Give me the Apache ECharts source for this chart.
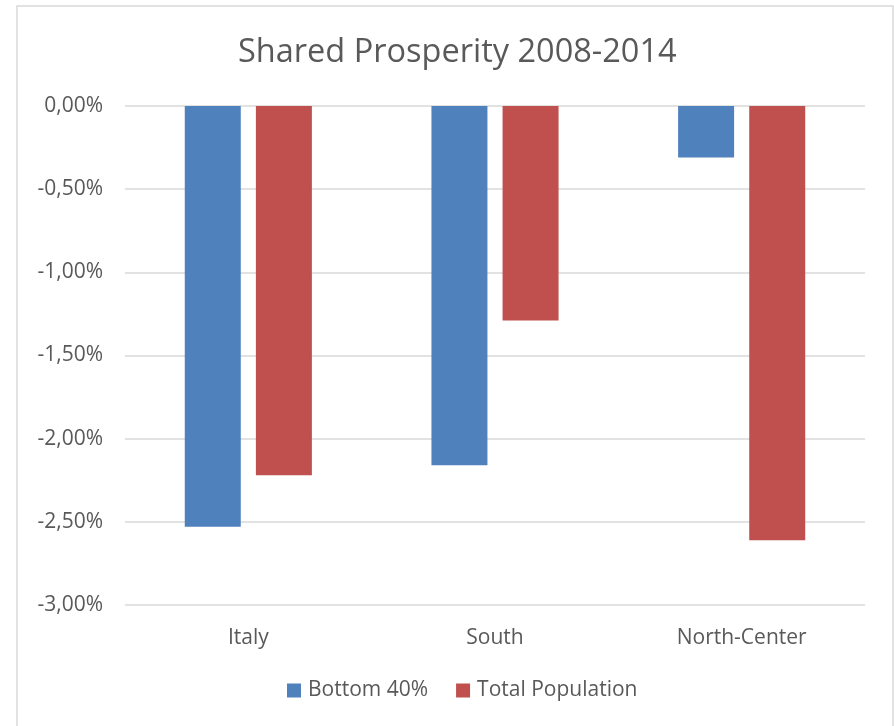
<!DOCTYPE html>
<html>
<head>
<meta charset="utf-8">
<script src="https://cdn.jsdelivr.net/npm/echarts@6/dist/echarts.min.js"></script>
<style>
  html, body { margin: 0; padding: 0; background: #fff; }
  #chart { width: 894px; height: 726px; }
</style>
</head>
<body>
<div id="chart"></div>
<script>
// Growth 2008-2014, in percent
const regions = ['Italy', 'South', 'North-Center'];
const bottom40 = [-2.53, -2.16, -0.31];
const totalPopulation = [-2.22, -1.29, -2.61];
const seriesNames = ['Bottom 40%', 'Total Population'];

const textColor = '#595959';
const fontFamily = '"Open Sans", "Noto Sans", sans-serif';

const chart = echarts.init(document.getElementById('chart'));
chart.setOption({
  backgroundColor: '#fff',
  textStyle: { fontFamily: fontFamily, color: textColor },
  title: {
    text: 'Shared Prosperity 2008-2014',
    left: 233,
    top: 31,
    textStyle: { fontFamily: fontFamily, fontSize: 32.5, fontWeight: 'normal', color: textColor }
  },
  graphic: [{
    type: 'rect',
    shape: { x: 17, y: 6, width: 876, height: 730 },
    style: { fill: null, stroke: '#d9d9d9', lineWidth: 1.5 },
    silent: true
  }],
  legend: {
    bottom: 20,
    left: 282,
    itemWidth: 14,
    itemHeight: 14,
    itemGap: 28,
    icon: 'rect',
    textStyle: { fontFamily: fontFamily, fontSize: 21, color: textColor, padding: [0, 0, 0, 2] },
    data: seriesNames
  },
  grid: { left: 125, right: 29, top: 106, bottom: 121 },
  xAxis: {
    type: 'category',
    data: regions,
    position: 'bottom',
    axisLine: { show: false },
    axisTick: { show: false },
    axisLabel: { fontSize: 21, color: textColor, margin: 23, fontFamily: fontFamily }
  },
  yAxis: {
    type: 'value',
    min: -3,
    max: 0,
    interval: 0.5,
    axisLine: { show: false },
    axisTick: { show: false },
    splitLine: { lineStyle: { color: '#d9d9d9', width: 1.5 } },
    axisLabel: {
      fontSize: 21,
      color: textColor,
      margin: 22,
      fontFamily: fontFamily,
      formatter: v => (Math.abs(v) < 1e-9 ? 0 : v).toFixed(2).replace('.', ',') + '%'
    }
  },
  series: [
    {
      name: seriesNames[0],
      type: 'bar',
      data: bottom40,
      barWidth: 56,
      barGap: '27%',
      itemStyle: { color: '#4F81BD' }
    },
    {
      name: seriesNames[1],
      type: 'bar',
      data: totalPopulation,
      barWidth: 56,
      itemStyle: { color: '#C0504D' }
    }
  ]
});
</script>
</body>
</html>
